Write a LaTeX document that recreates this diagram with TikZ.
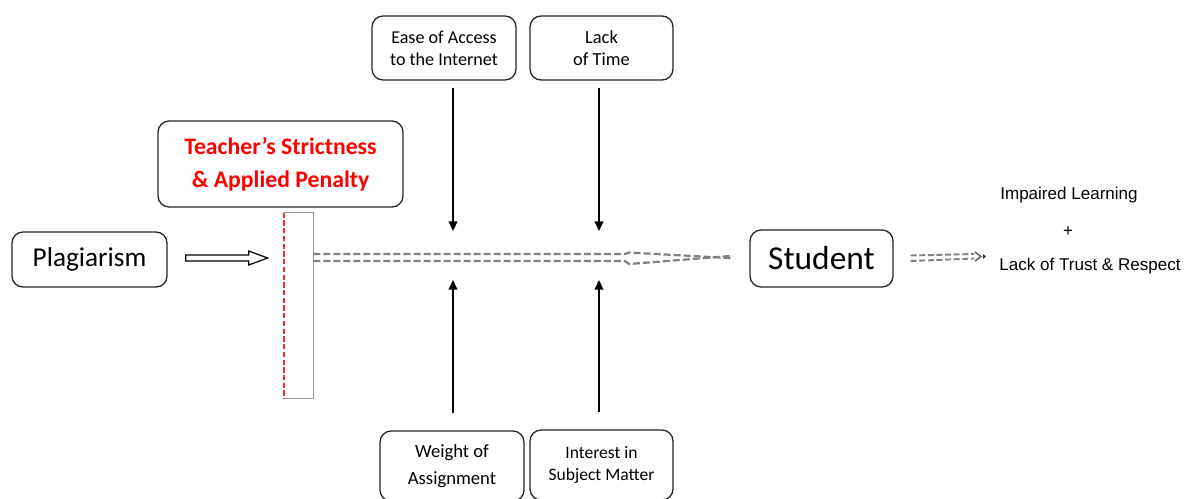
\documentclass[tikz,border=0pt]{standalone}
\usepackage{fontspec}
\setmainfont{Carlito}
\newfontfamily\arialf{Liberation Sans}
\usetikzlibrary{arrows.meta}
\definecolor{wallred}{RGB}{255,40,40}
\begin{document}
\begin{tikzpicture}[x=0.02cm,y=-0.02cm,
  box/.style={draw=black!85, line width=0.75pt, rounded corners=0.22cm, fill=white, align=center, inner sep=0pt},
  arr/.style={line width=0.9pt, -{Triangle[length=5.5pt,width=5pt]}},
  dsh/.style={draw=black!50, line width=1.25pt, dash pattern=on 4pt off 1.7pt},
  note/.style={font=\arialf\fontsize{9.7}{12}\selectfont, inner sep=0pt}
]
\useasboundingbox (0,0) rectangle (1186,498);
\clip (0,0) rectangle (1186,498);

% boxes
\node[box, minimum width=3.1cm, minimum height=1.1cm, font=\fontsize{15.5}{18}\selectfont] (plag) at (89.5,259.5) {Plagiarism};
\node[box, minimum width=4.9cm, minimum height=1.72cm, text=red, font=\bfseries\fontsize{13.5}{18.7}\selectfont] (teach) at (280.5,164) {Teacher’s Strictness\\\& Applied Penalty};
\node[box, minimum width=2.88cm, minimum height=1.28cm, font=\fontsize{10.3}{12.6}\selectfont] (ease) at (444,48) {Ease of Access\\to the Internet};
\node[box, minimum width=2.86cm, minimum height=1.28cm, font=\fontsize{10.5}{12.6}\selectfont] (lack) at (601.5,48) {Lack\\of Time};
\node[box, minimum width=2.88cm, minimum height=1.4cm, font=\fontsize{10.6}{15}\selectfont] (weight) at (452,466) {Weight of\\Assignment};
\node[box, minimum width=2.86cm, minimum height=1.4cm, font=\fontsize{10}{13}\selectfont] (inter) at (601.5,465) {Interest in\\Subject Matter};
\node[box, minimum width=2.86cm, minimum height=1.14cm, font=\fontsize{19}{22}\selectfont] (stud) at (821.5,258.5) {Student};

% wall
\node[minimum width=0.58cm, minimum height=3.7cm, inner sep=0pt] (wall) at (298.5,305.5) {};
\draw[black!40, line width=0.6pt] (wall.north west) -- (wall.north east) -- (wall.south east) -- (wall.south west);
\draw[draw=wallred, line width=1pt, dash pattern=on 3pt off 1.4pt] (wall.north west) -- (wall.south west);

% hollow arrow plagiarism -> wall
\begin{scope}[shift={(plag.east)}]
\draw[line width=0.7pt, fill=white] (18,-4.5) -- (81,-4.5) -- (81,-8.5) -- (100,-1.5) -- (81,5.5) -- (81,1.5) -- (18,1.5) -- cycle;
\end{scope}

% double dashed arrow wall -> student
\coordinate (mid) at (625,257.5);
\coordinate (tip) at (733,257);
\draw[dsh] (wall.east |- 0,254) -- (mid |- 0,254) -- ([shift={(4,-5)}]mid) -- ([yshift=-0.7]tip);
\draw[dsh] (wall.east |- 0,261) -- (mid |- 0,261) -- ([shift={(4,6.5)}]mid) -- ([yshift=0.7]tip);

% factor arrows
\coordinate (c1) at (453,231);
\coordinate (c2) at (599,231);
\coordinate (c3) at (453,280);
\coordinate (c4) at (599,280);
\draw[arr, shorten <=0.14cm] (ease.south -| c1) -- (c1);
\draw[arr, shorten <=0.14cm] (lack.south -| c2) -- (c2);
\draw[arr, shorten <=0.34cm] (weight.north -| c3) -- (c3);
\draw[arr, shorten <=0.34cm] (inter.north -| c4) -- (c4);

% outcome arrow
\coordinate (out) at (986,256.5);
\draw[dsh, line width=1.1pt, dash pattern=on 3.4pt off 1.5pt] ([shift={(17,-3)}]stud.east) -- ([shift={(-12,-2.5)}]out);
\draw[dsh, line width=1.1pt, dash pattern=on 3.4pt off 1.5pt] ([shift={(17,2.5)}]stud.east) -- ([shift={(-12,2)}]out);
\draw[black!60, line width=0.9pt] ([shift={(-11,-4.5)}]out) -- ([shift={(-5,0)}]out) -- ([shift={(-11,4.5)}]out);
\fill[black!80] ([shift={(-3,-2.5)}]out) -- (out) -- ([shift={(-3,2.5)}]out) -- cycle;

% outcomes
\node[note] (imp) at (1069,195) {Impaired Learning};
\node[note] (plus) at (1068,232) {+};
\node[note] (trust) at (1090,266) {Lack of Trust \& Respect};
\end{tikzpicture}
\end{document}
